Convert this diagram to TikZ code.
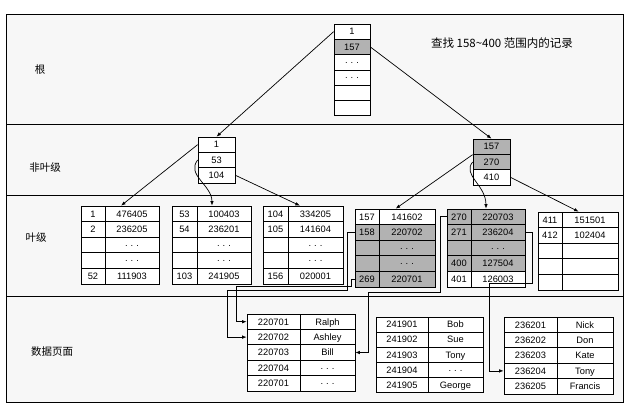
\documentclass[tikz,border=0pt]{standalone}
\usepackage{fontspec}
\setmainfont{Liberation Sans}
\newfontfamily\cjk{Noto Sans CJK SC}
\usetikzlibrary{calc,arrows.meta}
\tikzset{
 cell/.style={draw,inner sep=0pt,font=\fontsize{9.3}{10}\selectfont,line width=0.7pt,text height=6.6pt,text depth=0pt},
 arr/.style={-{Latex[length=4.5pt,width=3.5pt]},line width=0.7pt},
 lvl/.style={font=\cjk\fontsize{10.5}{12}\selectfont},
}
\newcommand\tbl[7]{%
 \foreach \a/\b/\f [count=\i] in {#7}{
  \node[cell,fill=\f,minimum width={#3pt-#2pt},minimum height=#6pt] (#1-\i-l) at ({(#2+#3)/2},{#5+(\i-0.5)*#6}) {\a};
  \node[cell,fill=\f,minimum width={#4pt-#3pt},minimum height=#6pt] (#1-\i-r) at ({(#3+#4)/2},{#5+(\i-0.5)*#6}) {\b};
 }}
\newcommand\onecol[6]{%
 \foreach \a/\f [count=\i] in {#6}{
  \node[cell,fill=\f,minimum width={#3pt-#2pt},minimum height=#5pt] (#1-\i) at ({(#2+#3)/2},{#4+(\i-0.5)*#5}) {\a};
 }}
\def\dd{· · ·}
\begin{document}
\begin{tikzpicture}[x=1pt,y=-1pt]
\useasboundingbox (0,0) rectangle (630,410);
\fill[gray!6] (6,14) rectangle (623,402);
\draw[line width=0.8pt] (6,14) rectangle (623,402);
\draw[line width=0.8pt] (6,124) -- (623,124) (6,195) -- (623,195) (6,296) -- (623,296);
\node[lvl] (t1) at (40,70) {根};
\node[lvl] (t2) at (45,168) {非叶级};
\node[lvl] (t3) at (36,238) {叶级};
\node[lvl] (t4) at (52,352) {数据页面};
\node[font=\cjk\fontsize{11.5}{13}\selectfont] (title) at (502,43) {查找 158\textasciitilde400 范围内的记录};
% root
\onecol{R}{334}{370}{24}{15.3}{1/white,157/gray!60,\dd/white,\dd/white,/white,/white}
% non-leaf
\onecol{N}{198}{235}{137}{15.3}{1/white,53/white,104/white}
\onecol{M}{473}{510}{139}{15.3}{157/gray!60,270/gray!60,410/white}
% leaves
\tbl{La}{81}{105}{159}{206}{15.6}{1/476405/white,2/236205/white,/\dd/white,/\dd/white,52/111903/white}
\tbl{Lb}{172}{197}{251}{206}{15.6}{53/100403/white,54/236201/white,/\dd/white,/\dd/white,103/241905/white}
\tbl{Lc}{263}{288}{343}{206}{15.6}{104/334205/white,105/141604/white,/\dd/white,/\dd/white,156/020001/white}
\tbl{Ld}{355}{379}{435}{209}{15.6}{157/141602/white,158/220702/gray!60,/\dd/gray!60,/\dd/gray!60,269/220701/gray!60}
\tbl{Le}{447}{471}{525}{209}{15.6}{270/220703/gray!60,271/236204/gray!60,/\dd/gray!60,400/127504/gray!60,401/126003/white}
\tbl{Lf}{538}{562}{618}{212}{15.6}{411/151501/white,412/102404/white,//white,//white,//white}
% data pages
\tbl{Da}{247}{300}{355}{314}{15.4}{220701/Ralph/white,220702/Ashley/white,220703/Bill/white,220704/\dd/white,220701/\dd/white}
\tbl{Db}{376}{428}{483}{317}{15.1}{241901/Bob/white,241902/Sue/white,241903/Tony/white,241904/\dd/white,241905/George/white}
\tbl{Dc}{504}{557}{613}{317}{15.4}{236201/Nick/white,236202/Don/white,236203/Kate/white,236204/Tony/white,236205/Francis/white}
% connectors
\draw[arr] (R-1.west) -- (N-1.north);
\draw[arr] (R-2.east) -- (M-1.north);
\draw[arr] (N-1.west) -- ($(La-1-r.north west)!0.3!(La-1-r.north east)$);
\draw[arr] (N-2.west) .. controls (186,175) and (212,185) .. ($(Lb-1-r.north west)!0.28!(Lb-1-r.north east)$);
\draw[arr] (N-3.east) -- ($(Lc-1-r.north west)!0.22!(Lc-1-r.north east)$);
\draw[arr] (M-1.south west) -- ($(Ld-1-r.north west)!0.3!(Ld-1-r.north east)$);
\draw[arr] (M-2.west) .. controls (462,175) and (486,185) .. ($(Le-1-r.north west)!0.28!(Le-1-r.north east)$);
\draw[arr] (M-3.east) -- ($(Lf-1-r.north west)!0.3!(Lf-1-r.north east)$);
\draw[arr] (Ld-2-l.west) -| (347,290) -| ([xshift=-19]Da-2-l.west) -- (Da-2-l.west);
\draw[arr] (Ld-5-l.west) -| (351,286) -| ([xshift=-10]Da-1-l.west) -- (Da-1-l.west);
\draw[arr] (Le-1-l.west) -| (440,292) -| ([xshift=13]Da-3-r.east) -- (Da-3-r.east);
\draw[arr] (Le-2-r.east) -| (532,283) -| ([xshift=-14]Dc-4-l.west) -- (Dc-4-l.west);
\end{tikzpicture}
\end{document}
